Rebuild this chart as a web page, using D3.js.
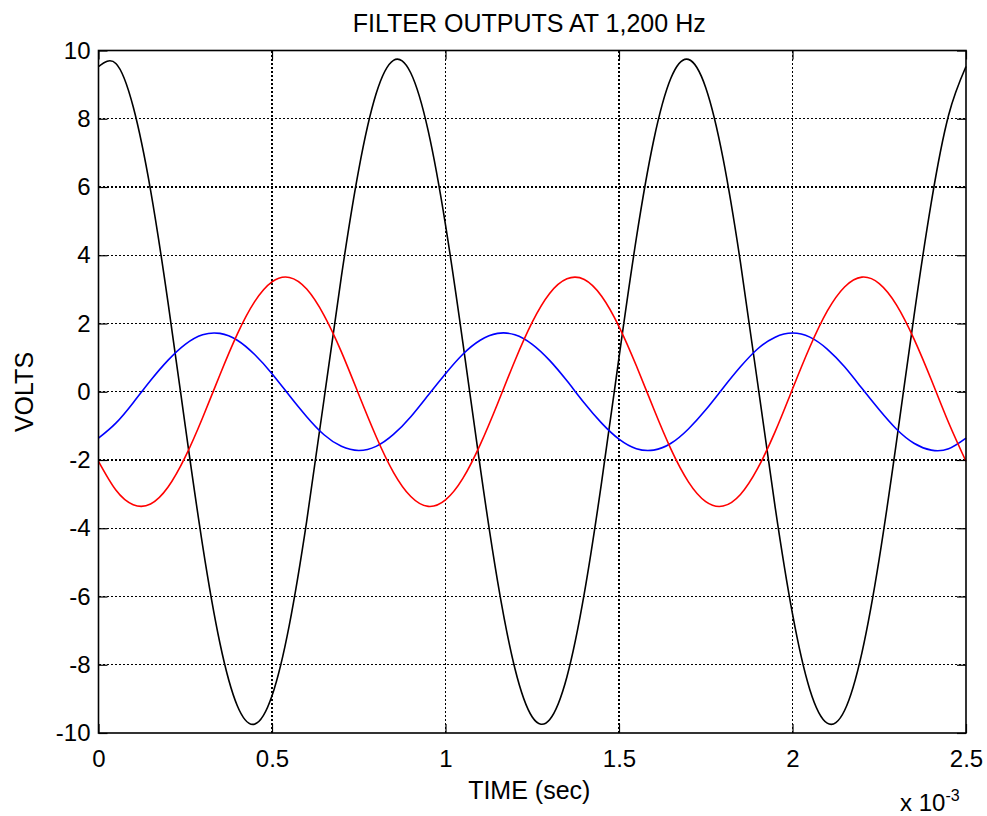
<!DOCTYPE html>
<html>
<head>
<meta charset="utf-8">
<script src="https://cdn.jsdelivr.net/npm/d3@7"></script>
<style>
  body { margin: 0; background: #fff; }
  svg text { font-family: "Liberation Sans", Arial, sans-serif; fill: #000; }
</style>
</head>
<body>
<svg id="canvas" width="987" height="816"></svg>
<script>
// sample times in ms (axis is shown as seconds x 10^-3)
let timeMs = [0, 0.05, 0.1, 0.15, 0.2, 0.25, 0.3, 0.35, 0.4, 0.45,
    0.5, 0.55, 0.6, 0.65, 0.7, 0.75, 0.8, 0.85, 0.9, 0.95,
    1, 1.05, 1.1, 1.15, 1.2, 1.25, 1.3, 1.35, 1.4, 1.45,
    1.5, 1.55, 1.6, 1.65, 1.7, 1.75, 1.8, 1.85, 1.9, 1.95,
    2, 2.05, 2.1, 2.15, 2.2, 2.25, 2.3, 2.35, 2.4, 2.45, 2.5]

let blackVolts = [9.53, 9.62, 8.35, 5.91, 2.64, -1.00, -4.50, -7.37, -9.20, -9.74,
    -8.91, -6.83, -3.79, -0.22, 3.38, 6.51, 8.73, 9.71, 9.34, 7.65,
    4.89, 1.44, -2.21, -5.55, -8.11, -9.53, -9.61, -8.35, -5.91, -2.64,
    1.00, 4.50, 7.37, 9.20, 9.74, 8.91, 6.83, 3.79, 0.22, -3.38,
    -6.51, -8.73, -9.71, -9.34, -7.65, -4.89, -1.44, 2.21, 5.55, 8.11, 9.53]

let redVolts = [-2.04, -2.88, -3.31, -3.29, -2.80, -1.91, -0.76, 0.50, 1.69, 2.64,
    3.22, 3.35, 3.01, 2.24, 1.17, -0.08, -1.31, -2.36, -3.07, -3.36,
    -3.17, -2.54, -1.55, -0.35, 0.91, 2.04, 2.88, 3.31, 3.29, 2.80,
    1.91, 0.76, -0.50, -1.69, -2.64, -3.22, -3.35, -3.01, -2.24, -1.17,
    0.08, 1.31, 2.36, 3.07, 3.36, 3.17, 2.54, 1.55, 0.35, -0.91, -2.04]

let blueVolts = [-1.36, -0.92, -0.32, 0.33, 0.92, 1.39, 1.67, 1.71, 1.51, 1.09,
    0.53, -0.11, -0.73, -1.26, -1.60, -1.72, -1.60, -1.25, -0.73, -0.10,
    0.53, 1.10, 1.51, 1.71, 1.67, 1.39, 0.92, 0.32, -0.33, -0.92,
    -1.39, -1.67, -1.71, -1.51, -1.09, -0.53, 0.11, 0.73, 1.26, 1.60,
    1.72, 1.60, 1.25, 0.73, 0.10, -0.53, -1.10, -1.51, -1.71, -1.67, -1.36]

let xTicks = [0, 0.5, 1, 1.5, 2, 2.5]
let yTicks = [-10, -8, -6, -4, -2, 0, 2, 4, 6, 8, 10]

let canvas = d3.select('#canvas')

function drawChart() {

    var left = 98.5, right = 966, top = 50.5, bottom = 733

    let x = d3.scaleLinear().domain([0, 2.5]).range([left, right])
    let y = d3.scaleLinear().domain([-10, 10]).range([bottom, top])

    // dotted grid
    canvas.selectAll('.vgrid')
        .data(xTicks.slice(1, -1))
        .enter()
        .append('line')
        .attr('x1', d => x(d)).attr('x2', d => x(d))
        .attr('y1', top).attr('y2', bottom)
        .attr('stroke', '#000').attr('stroke-width', 1.2)
        .attr('stroke-dasharray', '2,2')
        .attr('shape-rendering', 'crispEdges')

    canvas.selectAll('.hgrid')
        .data(yTicks.slice(1, -1))
        .enter()
        .append('line')
        .attr('x1', left).attr('x2', right)
        .attr('y1', d => y(d)).attr('y2', d => y(d))
        .attr('stroke', '#000').attr('stroke-width', 1.2)
        .attr('stroke-dasharray', '2,2')
        .attr('shape-rendering', 'crispEdges')

    // the three filter outputs
    let line = d3.line()
        .x((d, i) => x(timeMs[i]))
        .y(d => y(d))
        .curve(d3.curveNatural)

    let series = [
        {vals: blackVolts, color: '#000000'},
        {vals: blueVolts, color: '#0000ff'},
        {vals: redVolts, color: '#ff0000'}
    ]

    canvas.selectAll('.trace')
        .data(series)
        .enter()
        .append('path')
        .attr('d', d => line(d.vals))
        .attr('fill', 'none')
        .attr('stroke', d => d.color)
        .attr('stroke-width', 1.6)

    // axes, ticks pointing inward on all four sides
    let tickLen = 9
    let plain = d => String(d)
    canvas.append('g')
        .attr('transform', 'translate(0,' + bottom + ')')
        .call(d3.axisBottom(x).tickValues(xTicks).tickSize(-tickLen).tickPadding(17)
            .tickFormat(plain))
    canvas.append('g')
        .attr('transform', 'translate(0,' + top + ')')
        .call(d3.axisTop(x).tickValues(xTicks).tickSize(-tickLen).tickFormat(''))
    canvas.append('g')
        .attr('transform', 'translate(' + left + ',0)')
        .call(d3.axisLeft(y).tickValues(yTicks).tickSize(-tickLen).tickPadding(8)
            .tickFormat(plain))
    canvas.append('g')
        .attr('transform', 'translate(' + right + ',0)')
        .call(d3.axisRight(y).tickValues(yTicks).tickSize(-tickLen).tickFormat(''))

    canvas.selectAll('.domain').remove()
    canvas.selectAll('.tick line').attr('stroke', '#000').attr('stroke-width', 1.2)
    canvas.selectAll('.tick text')
        .style('font-size', '24px')
        .style('font-family', '"Liberation Sans", Arial, sans-serif')
        .attr('fill', '#000')

    canvas.append('rect')
        .attr('x', left).attr('y', top)
        .attr('width', right - left).attr('height', bottom - top)
        .attr('fill', 'none')
        .attr('stroke', '#000').attr('stroke-width', 1.6)

    // titles
    canvas.append('text')
        .attr('x', (left + right) / 2 - 3).attr('y', 32)
        .attr('text-anchor', 'middle')
        .style('font-size', '25px')
        .text('FILTER OUTPUTS AT 1,200 Hz')

    canvas.append('text')
        .attr('x', (left + right) / 2 - 3).attr('y', 799)
        .attr('text-anchor', 'middle')
        .style('font-size', '25px')
        .text('TIME (sec)')

    canvas.append('text')
        .attr('transform', 'translate(33,392) rotate(-90)')
        .attr('text-anchor', 'middle')
        .style('font-size', '25px')
        .text('VOLTS')

    let mult = canvas.append('text')
        .attr('x', 900).attr('y', 811)
        .style('font-size', '24px')
    mult.append('tspan').text('x 10')
    mult.append('tspan')
        .attr('dy', -10)
        .style('font-size', '16px')
        .text('-3')
}

drawChart()
</script>
</body>
</html>
